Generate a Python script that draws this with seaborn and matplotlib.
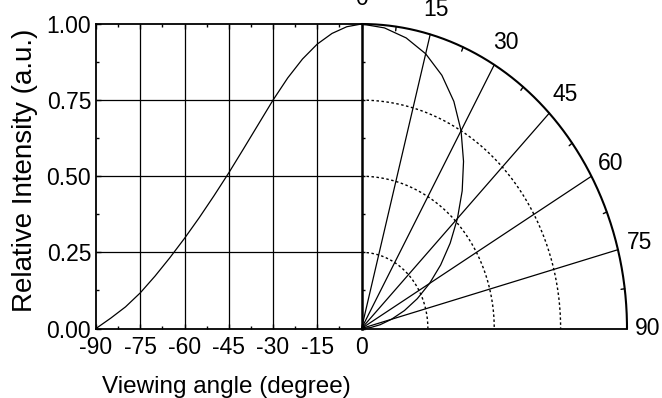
import numpy as np
import pandas as pd
import matplotlib
matplotlib.use("Agg")
import matplotlib.pyplot as plt
import seaborn as sns

# ---- data ----
angles = [0, 5, 10, 15, 20, 25, 30, 35, 40, 45, 50, 55, 60, 65, 70, 75, 80, 85, 90]
intensity = [1.000, 0.991, 0.969, 0.934, 0.885, 0.823, 0.750, 0.670, 0.590, 0.511,
             0.436, 0.364, 0.296, 0.232, 0.172, 0.117, 0.071, 0.034, 0.000]
x_ticks = [-90, -75, -60, -45, -30, -15, 0]
x_tick_labels = ["-90", "-75", "-60", "-45", "-30", "-15", "0"]
x_minor = [-82.5, -67.5, -52.5, -37.5, -22.5, -7.5]
y_ticks = [0.0, 0.25, 0.50, 0.75, 1.00]
y_tick_labels = ["0.00", "0.25", "0.50", "0.75", "1.00"]
y_minor = [0.125, 0.375, 0.625, 0.875]
polar_angles = [0, 15, 30, 45, 60, 75, 90]
polar_angle_labels = ["0", "15", "30", "45", "60", "75", "90"]
polar_minor = [7.5, 22.5, 37.5, 52.5, 67.5, 82.5]
polar_rings = [0.25, 0.50, 0.75]

sns.set_theme(style="white")
plt.rcParams["font.family"] = ["Liberation Sans", "DejaVu Sans"]
plt.rcParams["axes.unicode_minus"] = False
plt.rcParams["text.color"] = "black"
plt.rcParams["axes.labelcolor"] = "black"
plt.rcParams["xtick.color"] = "black"
plt.rcParams["ytick.color"] = "black"

TICK_FS = 16.5

fig = plt.figure(figsize=(6.62, 3.98), dpi=100)
ax = fig.add_axes([96 / 662, (398 - 328.5) / 398, 531 / 662, 304.5 / 398])
ax.set_xlim(-90, 90)
ax.set_ylim(0, 1)

XS = 90.0  # horizontal units for r = 1 on the polar side


def polar_xy(theta_deg, r):
    t = np.deg2rad(np.asarray(theta_deg, dtype=float))
    return XS * np.asarray(r, dtype=float) * np.sin(t), np.asarray(r, dtype=float) * np.cos(t)


# ---- Cartesian grid (left half) ----
ax.vlines(x_ticks[1:-1], 0, 1, color="black", lw=0.9, zorder=1)
ax.hlines(y_ticks[1:-1], -90, 0, color="black", lw=0.9, zorder=1)

# ---- left curve ----
df_left = pd.DataFrame({"angle": -np.asarray(angles, dtype=float), "I": intensity})
sns.lineplot(data=df_left, x="angle", y="I", ax=ax, color="black", lw=0.9,
             estimator=None, sort=False, clip_on=False)

# ---- polar grid (right half) ----
th = np.linspace(0, 90, 361)
ox, oy = polar_xy(th, np.ones_like(th))
ax.plot(ox, oy, color="black", lw=1.5, clip_on=False, zorder=3)
for r in polar_rings:
    rx, ry = polar_xy(th, np.full_like(th, r))
    ax.plot(rx, ry, color="black", lw=1.0, ls=(0, (1.8, 1.8)), clip_on=False, zorder=2)
for a in polar_angles[1:-1]:
    lx, ly = polar_xy([a, a], [0, 1])
    ax.plot(lx, ly, color="black", lw=0.9, clip_on=False, zorder=2)
for a in polar_minor:
    tx, ty = polar_xy([a, a], [0.986, 1.0])
    ax.plot(tx, ty, color="black", lw=1.0, clip_on=False, zorder=3)
for a, lab in zip(polar_angles, polar_angle_labels):
    if a == 90:
        tx, ty = polar_xy(a, 1.03)
        ax.text(float(tx), float(ty), lab, ha="left", va="center", fontsize=TICK_FS,
                clip_on=False)
    else:
        tx, ty = polar_xy(a, 1.085)
        ax.text(float(tx), float(ty), lab, ha="center", va="center", fontsize=TICK_FS,
                clip_on=False)

# ---- polar curve ----
px, py = polar_xy(angles, intensity)
sns.lineplot(x=px, y=py, ax=ax, color="black", lw=0.9, estimator=None, sort=False,
             clip_on=False)

# ---- axes styling ----
ax.set_xticks(x_ticks)
ax.set_xticklabels(x_tick_labels)
ax.set_xticks(x_minor, minor=True)
ax.set_yticks(y_ticks)
ax.set_yticklabels(y_tick_labels)
ax.set_yticks(y_minor, minor=True)
ax.xaxis.set_ticks_position("both")
ax.yaxis.set_ticks_position("left")
ax.tick_params(axis="both", which="both", direction="in", width=1.0, labelsize=TICK_FS,
               labeltop=False)
ax.tick_params(axis="both", which="major", length=3.5)
ax.tick_params(axis="both", which="minor", length=2.5)
ax.tick_params(axis="x", which="major", pad=5.5)
ax.tick_params(axis="y", which="major", pad=3.5)

ax.spines["right"].set_visible(False)
ax.spines["top"].set_bounds(-90, 0)
for s in ["left", "bottom", "top"]:
    ax.spines[s].set_color("black")
    ax.spines[s].set_linewidth(1.3)

ax.set_xlabel("Viewing angle (degree)", fontsize=17.5)
ax.xaxis.set_label_coords(0.2446, -0.2128)
ax.xaxis.label.set_va("baseline")
ax.set_ylabel("Relative Intensity (a.u.)", fontsize=20)
ax.yaxis.set_label_coords(-0.1205, 0.519)
ax.yaxis.label.set_va("baseline")

# ---- vertical 0-degree axis with outward ticks ----
ax2 = ax.twinx()
ax2.set_ylim(0, 1)
for s in ["left", "top", "bottom"]:
    ax2.spines[s].set_visible(False)
ax2.spines["right"].set_position(("data", 0))
ax2.spines["right"].set_color("black")
ax2.spines["right"].set_linewidth(1.8)
ax2.set_yticks(y_ticks)
ax2.set_yticks(y_minor, minor=True)
ax2.tick_params(axis="y", which="both", direction="out", length=2.5, width=1.0,
                labelright=False)
ax2.grid(False)

fig.savefig("out.png", dpi=100)
